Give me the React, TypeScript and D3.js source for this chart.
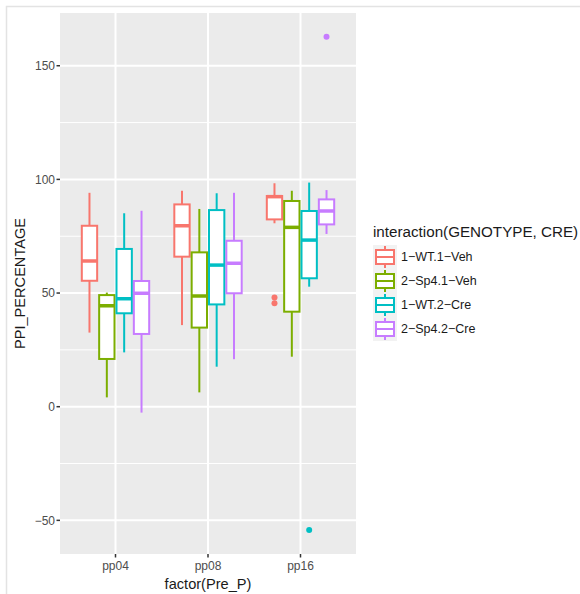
import React, { useEffect, useRef } from 'react';
import * as d3 from 'd3';

const categories = ['pp04', 'pp08', 'pp16'];
const groups = ['1-WT.1-Veh', '2-Sp4.1-Veh', '1-WT.2-Cre', '2-Sp4.2-Cre'];
const colors = ['#F8766D', '#7CAE00', '#00BFC4', '#C77CFF'];

// box stats per group, one value per category (pp04, pp08, pp16)
const wtVehLower = [32.6, 35.9, 80.7];
const wtVehQ1 = [55.4, 66.0, 82.4];
const wtVehMedian = [64.1, 79.6, 92.4];
const wtVehQ3 = [79.6, 89.0, 92.7];
const wtVehUpper = [94.1, 95.0, 98.3];
const wtVehOutliers = [[], [], [48.0, 45.5]];

const spVehLower = [4.1, 6.3, 22.0];
const spVehQ1 = [21.0, 34.8, 41.8];
const spVehMedian = [44.4, 48.7, 78.9];
const spVehQ3 = [49.1, 67.9, 90.5];
const spVehUpper = [50.2, 87.0, 95.0];
const spVehOutliers = [[], [], []];

const wtCreLower = [23.9, 17.6, 52.8];
const wtCreQ1 = [41.1, 45.0, 56.5];
const wtCreMedian = [47.5, 62.3, 73.3];
const wtCreQ3 = [69.4, 86.5, 86.1];
const wtCreUpper = [85.1, 93.9, 98.6];
const wtCreOutliers = [[], [], [-54.2]];

const spCreLower = [-2.6, 20.9, 76.0];
const spCreQ1 = [32.0, 49.9, 80.2];
const spCreMedian = [49.9, 63.1, 86.1];
const spCreQ3 = [55.3, 73.0, 91.2];
const spCreUpper = [86.2, 94.1, 95.3];
const spCreOutliers = [[], [], [162.8]];

const yTicks = [-50, 0, 50, 100, 150];
const yMinor = [-25, 25, 75, 125];

const App = () => {
  const svgRef = useRef<SVGSVGElement>(null);

  useEffect(() => {
    document.body.style.margin = '0';
    const svg = d3.select(svgRef.current);
    svg.selectAll('*').remove();

    const width = 580;
    const height = 594;
    const panel = { left: 60, right: 356, top: 13, bottom: 554 };
    const font = 'Liberation Sans, Arial, sans-serif';

    const stats = [
      [wtVehLower, wtVehQ1, wtVehMedian, wtVehQ3, wtVehUpper, wtVehOutliers],
      [spVehLower, spVehQ1, spVehMedian, spVehQ3, spVehUpper, spVehOutliers],
      [wtCreLower, wtCreQ1, wtCreMedian, wtCreQ3, wtCreUpper, wtCreOutliers],
      [spCreLower, spCreQ1, spCreMedian, spCreQ3, spCreUpper, spCreOutliers],
    ];

    // frame of the screenshot
    svg.append('path')
      .attr('d', `M6.5,${height} V6.5 H${width}`)
      .attr('fill', 'none')
      .attr('stroke', '#e3e3e3')
      .attr('stroke-width', 1.5);

    // discrete axis: 0.6 units of expansion on each side
    const x = d3.scaleBand()
      .domain(categories)
      .range([panel.left, panel.right])
      .paddingOuter(0.1)
      .paddingInner(0);

    const y = d3.scaleLinear()
      .domain([-64.8, 173.2])
      .range([panel.bottom, panel.top]);

    const cx = (c: string) => (x(c) as number) + x.bandwidth() / 2;
    const dodge = d3.scaleBand()
      .domain(groups)
      .range([-x.bandwidth() * 0.375, x.bandwidth() * 0.375]);

    // panel
    svg.append('rect')
      .attr('x', panel.left)
      .attr('y', panel.top)
      .attr('width', panel.right - panel.left)
      .attr('height', panel.bottom - panel.top)
      .attr('fill', '#EBEBEB');

    const grid = svg.append('g');
    yMinor.forEach(v => {
      grid.append('line')
        .attr('x1', panel.left).attr('x2', panel.right)
        .attr('y1', y(v)).attr('y2', y(v))
        .attr('stroke', '#fff').attr('stroke-width', 1);
    });
    yTicks.forEach(v => {
      grid.append('line')
        .attr('x1', panel.left).attr('x2', panel.right)
        .attr('y1', y(v)).attr('y2', y(v))
        .attr('stroke', '#fff').attr('stroke-width', 2);
    });
    categories.forEach(c => {
      grid.append('line')
        .attr('x1', cx(c)).attr('x2', cx(c))
        .attr('y1', panel.top).attr('y2', panel.bottom)
        .attr('stroke', '#fff').attr('stroke-width', 2);
    });

    // boxes
    const bw = dodge.bandwidth();
    stats.forEach((s, gi) => {
      const [lower, q1, med, q3, upper, outs] = s as any;
      const g = svg.append('g').attr('stroke', colors[gi]).attr('fill', 'none');
      categories.forEach((c, ci) => {
        const bx = cx(c) + (dodge(groups[gi]) as number);
        const mx = bx + bw / 2;
        g.append('line')
          .attr('x1', mx).attr('x2', mx)
          .attr('y1', y(upper[ci])).attr('y2', y(q3[ci]))
          .attr('stroke-width', 2);
        g.append('line')
          .attr('x1', mx).attr('x2', mx)
          .attr('y1', y(q1[ci])).attr('y2', y(lower[ci]))
          .attr('stroke-width', 2);
        g.append('rect')
          .attr('x', bx + 1).attr('y', y(q3[ci]))
          .attr('width', bw - 2)
          .attr('height', y(q1[ci]) - y(q3[ci]))
          .attr('fill', '#fff')
          .attr('stroke-width', 2);
        g.append('line')
          .attr('x1', bx + 1).attr('x2', bx + bw - 1)
          .attr('y1', y(med[ci])).attr('y2', y(med[ci]))
          .attr('stroke-width', 3.5);
        outs[ci].forEach((o: number) => {
          g.append('circle')
            .attr('cx', mx).attr('cy', y(o)).attr('r', 3)
            .attr('fill', colors[gi]).attr('stroke', 'none');
        });
      });
    });

    // y axis
    const yAxis = svg.append('g');
    yTicks.forEach(v => {
      yAxis.append('line')
        .attr('x1', panel.left - 3.5).attr('x2', panel.left)
        .attr('y1', y(v)).attr('y2', y(v))
        .attr('stroke', '#333').attr('stroke-width', 1.5);
      yAxis.append('text')
        .attr('x', panel.left - 5).attr('y', y(v))
        .attr('dy', '0.35em')
        .attr('text-anchor', 'end')
        .attr('font-family', font).attr('font-size', 12)
        .attr('fill', '#4D4D4D')
        .text(v < 0 ? `\u2212${-v}` : String(v));
    });
    svg.append('text')
      .attr('transform', `translate(25,${(panel.top + panel.bottom) / 2}) rotate(-90)`)
      .attr('text-anchor', 'middle')
      .attr('font-family', font).attr('font-size', 14.6)
      .attr('fill', '#1a1a1a')
      .text('PPI_PERCENTAGE');

    // x axis
    const xAxis = svg.append('g');
    categories.forEach(c => {
      xAxis.append('line')
        .attr('x1', cx(c)).attr('x2', cx(c))
        .attr('y1', panel.bottom).attr('y2', panel.bottom + 3.5)
        .attr('stroke', '#333').attr('stroke-width', 1.5);
      xAxis.append('text')
        .attr('x', cx(c)).attr('y', panel.bottom + 16)
        .attr('text-anchor', 'middle')
        .attr('font-family', font).attr('font-size', 12)
        .attr('fill', '#4D4D4D')
        .text(c);
    });
    svg.append('text')
      .attr('x', (panel.left + panel.right) / 2).attr('y', panel.bottom + 35)
      .attr('text-anchor', 'middle')
      .attr('font-family', font).attr('font-size', 14.6)
      .attr('fill', '#1a1a1a')
      .text('factor(Pre_P)');

    // legend
    const lx = 373;
    const ly = 245;
    const key = 24;
    const legend = svg.append('g');
    legend.append('text')
      .attr('x', lx).attr('y', ly - 8)
      .attr('font-family', font).attr('font-size', 15.2)
      .attr('fill', '#1a1a1a')
      .text('interaction(GENOTYPE, CRE)');
    groups.forEach((gName, i) => {
      const ky = ly + i * key;
      const k = legend.append('g');
      k.append('rect')
        .attr('x', lx).attr('y', ky)
        .attr('width', key).attr('height', key)
        .attr('fill', '#F2F2F2');
      const mid = lx + key / 2;
      k.append('line')
        .attr('x1', mid).attr('x2', mid)
        .attr('y1', ky + 1).attr('y2', ky + key - 1)
        .attr('stroke', colors[i]).attr('stroke-width', 2);
      k.append('rect')
        .attr('x', lx + 3).attr('y', ky + 5)
        .attr('width', key - 6).attr('height', key - 10)
        .attr('fill', '#fff')
        .attr('stroke', colors[i]).attr('stroke-width', 2);
      k.append('line')
        .attr('x1', lx + 3).attr('x2', lx + key - 3)
        .attr('y1', ky + key / 2).attr('y2', ky + key / 2)
        .attr('stroke', colors[i]).attr('stroke-width', 2);
      legend.append('text')
        .attr('x', lx + key + 4).attr('y', ky + key / 2)
        .attr('dy', '0.35em')
        .attr('font-family', font).attr('font-size', 12.5)
        .attr('fill', '#1a1a1a')
        .text(gName.replace(/-/g, '\u2212'));
    });
  }, []);

  return (
    <svg ref={svgRef} width={580} height={594} style={{ display: 'block' }}></svg>
  );
};

export default App;
